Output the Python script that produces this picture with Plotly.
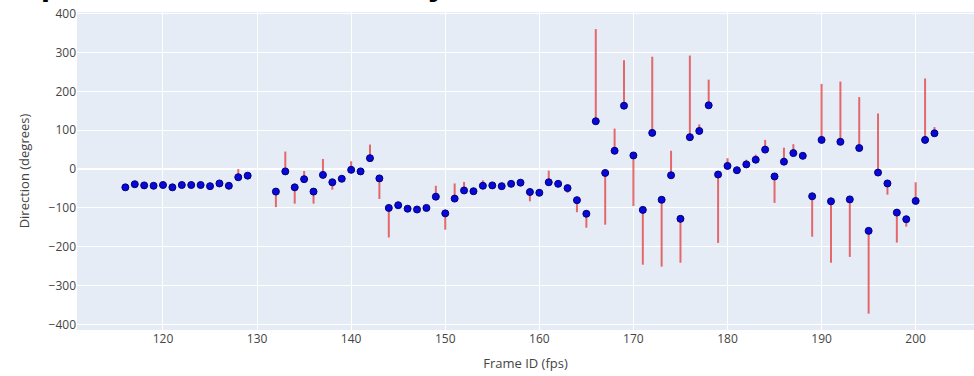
import plotly.graph_objects as go

frames = [116, 117, 118, 119, 120, 121, 122, 123, 124, 125, 126, 127, 128, 129,
          132, 133, 134, 135, 136, 137, 138, 139, 140, 141, 142, 143, 144, 145,
          146, 147, 148, 149, 150, 151, 152, 153, 154, 155, 156, 157, 158, 159,
          160, 161, 162, 163, 164, 165, 166, 167, 168, 169, 170, 171, 172, 173,
          174, 175, 176, 177, 178, 179, 180, 181, 182, 183, 184, 185, 186, 187,
          188, 189, 190, 191, 192, 193, 194, 195, 196, 197, 198, 199, 200, 201, 202]

direction = [-47, -39, -42, -43, -41, -47, -41, -41, -41, -44, -37, -43, -21, -17,
             -58, -6, -47, -26, -58, -15, -34, -25, -2, -6, 28, -24, -100, -93,
             -102, -104, -100, -71, -114, -76, -55, -57, -43, -42, -44, -38, -35, -59,
             -61, -34, -38, -49, -80, -115, 123, -10, 47, 163, 35, -105, 93, -79,
             -16, -128, 82, 98, 164, -14, 8, -3, 12, 24, 50, -19, 19, 41,
             34, -70, 75, -83, 70, -78, 54, -159, -9, -37, -112, -129, -82, 75, 92]

err_plus = [0, 3, 0, 0, 0, 0, 0, 0, 0, 0, 0, 0, 21, 0,
            0, 51, 0, 21, 0, 41, 0, 0, 22, 0, 35, 0, 0, 0,
            0, 0, 0, 28, 0, 39, 22, 0, 14, 0, 0, 0, 0, 0,
            0, 30, 0, 0, 0, 0, 237, 0, 57, 117, 0, 0, 196, 0,
            63, 0, 210, 17, 66, 0, 20, 0, 12, 13, 25, 0, 36, 23,
            0, 0, 144, 0, 155, 0, 131, 0, 152, 0, 0, 0, 48, 158, 16]

err_minus = [0, 0, 0, 0, 0, 0, 0, 0, 0, 0, 0, 0, 0, 0,
             40, 0, 42, 0, 31, 0, 19, 0, 0, 0, 0, 53, 76, 0,
             0, 0, 0, 0, 42, 0, 0, 0, 0, 0, 0, 0, 0, 24,
             0, 0, 0, 12, 31, 36, 0, 133, 0, 0, 130, 141, 0, 172,
             0, 113, 0, 0, 0, 176, 0, 7, 0, 0, 0, 68, 0, 0,
             0, 104, 0, 158, 0, 148, 0, 213, 0, 29, 77, 19, 0, 0, 0]

fig = go.Figure()
fig.add_trace(go.Scatter(
    x=frames, y=direction, mode="markers",
    marker=dict(color="#0808d8", size=7, line=dict(color="#00007a", width=1)),
    error_y=dict(type="data", symmetric=False, array=err_plus, arrayminus=err_minus,
                 color="rgba(225,60,60,0.75)", thickness=2, width=0),
    showlegend=False,
))

fig.add_annotation(text="<b>Speed Direction Variability</b>", xref="paper", yref="paper",
                   x=0, xanchor="left", xshift=-61, y=1, yanchor="bottom", yshift=8,
                   showarrow=False, font=dict(family="Arial", size=34, color="#000"))

fig.update_layout(
    template="plotly",
    width=974, height=376,
    margin=dict(l=77, r=0, t=12, b=46),
    font=dict(family="Open Sans", size=12, color="#444"),
    xaxis=dict(title=dict(text="Frame ID (fps)", font=dict(size=13), standoff=12),
               range=[110.86, 206.2], dtick=10, tick0=0),
    yaxis=dict(title=dict(text="Direction (degrees)", font=dict(size=13)),
               range=[-414, 404], dtick=100, tick0=0),
)

fig.write_html("out.html")
